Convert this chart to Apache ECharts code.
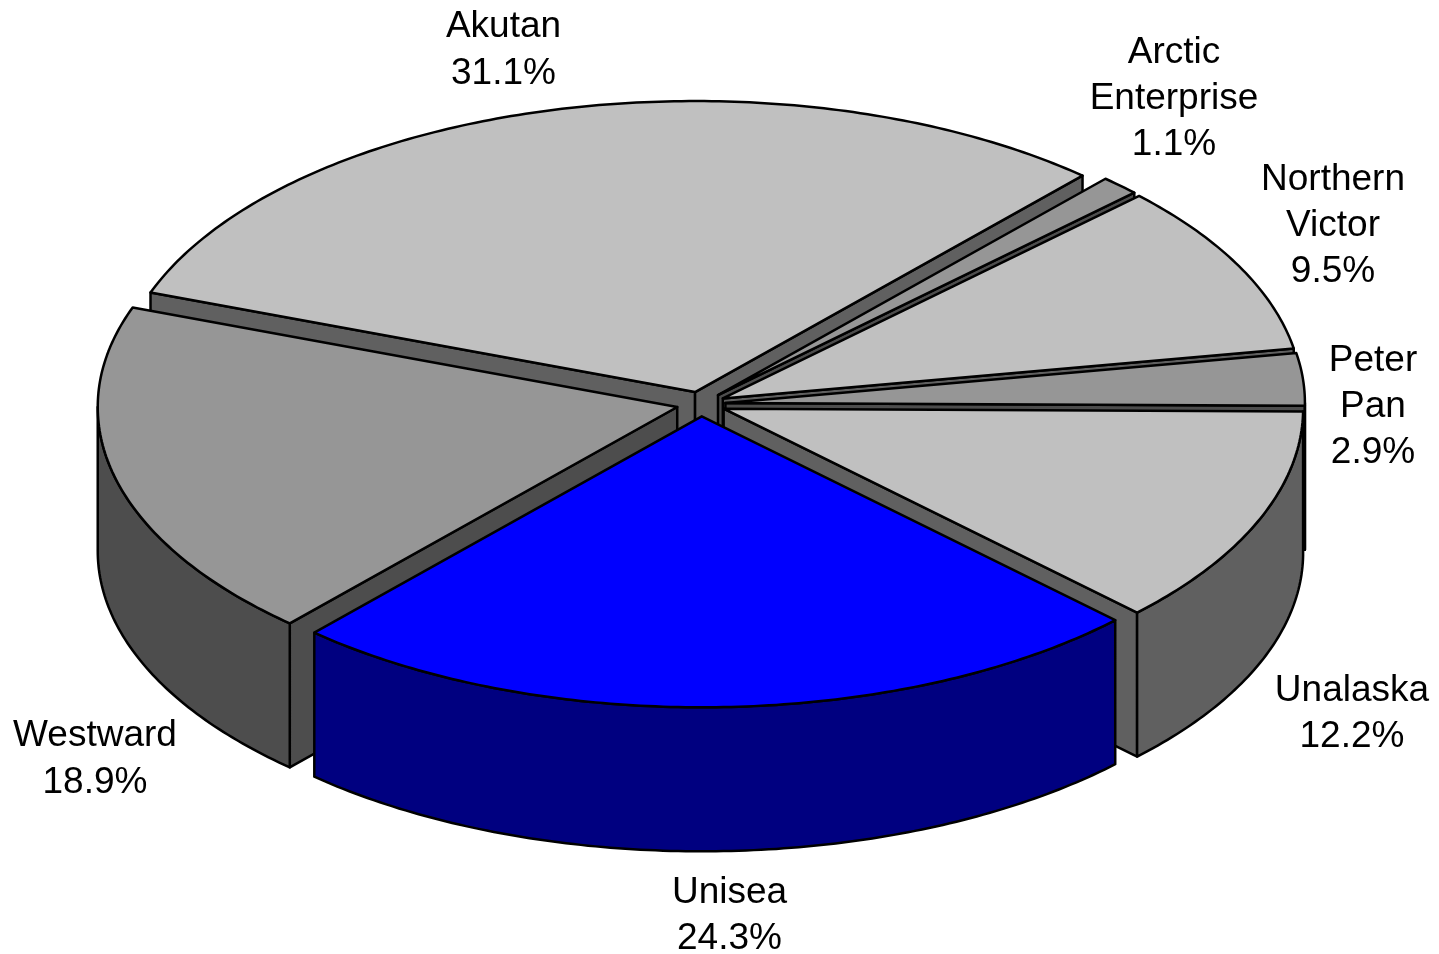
<!DOCTYPE html>
<html>
<head>
<meta charset="utf-8">
<style>html,body{margin:0;padding:0;background:#fff}#c{width:1439px;height:954px}</style>
<script src="https://cdn.jsdelivr.net/npm/echarts@6/dist/echarts.min.js"></script>
</head>
<body>
<div id="c"></div>
<script>
// Data, clockwise from the start angle
const categories = ['Akutan', 'Arctic Enterprise', 'Northern Victor', 'Peter Pan', 'Unalaska', 'Unisea', 'Westward'];
const shares = [31.1, 1.1, 9.5, 2.9, 12.2, 24.3, 18.9];
const labelLines = [['Akutan'], ['Arctic', 'Enterprise'], ['Northern', 'Victor'], ['Peter', 'Pan'], ['Unalaska'], ['Unisea'], ['Westward']];

// Styles and layout
const topColors = ['#C0C0C0', '#969696', '#C0C0C0', '#969696', '#C0C0C0', '#0000FF', '#969696'];
const wallColors = ['#606060', '#4D4D4D', '#606060', '#4D4D4D', '#606060', '#000080', '#4D4D4D'];
const labelCenters = [[503.5, 27], [1174, 52.5], [1333, 179.5], [1373, 360.5], [1352, 690.5], [729.5, 892.5], [95, 736]];
const pie = {cx: 701, cy: 404, rx: 579.5, ry: 291, depth: 144, explode: 24.5, startDeg: 200.0};
const lineGap = 46.3;

const total = shares.reduce((a, b) => a + b, 0);
const rad = d => d * Math.PI / 180;
let running = pie.startDeg;
const rows = shares.map((v, i) => {
  const a0 = running, a1 = running + v / total * 360;
  running = a1;
  return {value: [v, a0, a1, i], name: categories[i]};
});
// back-to-front painting order
rows.sort((p, q) => Math.sin(rad((p.value[1] + p.value[2]) / 2)) - Math.sin(rad((q.value[1] + q.value[2]) / 2)));

function arcPts(ox, oy, a0, a1, drop) {
  const pts = [], n = Math.max(4, Math.ceil((a1 - a0) / 0.75));
  for (let k = 0; k <= n; k++) {
    const a = rad(a0 + (a1 - a0) * k / n);
    pts.push([ox + pie.rx * Math.cos(a), oy + pie.ry * Math.sin(a) + drop]);
  }
  return pts;
}
function face(points, fill) {
  return {type: 'polygon', shape: {points}, style: {fill, stroke: '#000', lineWidth: 2.5, lineJoin: 'round'}};
}
function renderItem(params, api) {
  const a0 = api.value(1), a1 = api.value(2), i = api.value(3);
  const mid = rad((a0 + a1) / 2);
  const ox = pie.cx + pie.explode * Math.cos(mid);
  const oy = pie.cy + pie.explode * pie.ry / pie.rx * Math.sin(mid);
  const d = pie.depth, wall = wallColors[i], children = [];
  const edge = a => [ox + pie.rx * Math.cos(rad(a)), oy + pie.ry * Math.sin(rad(a))];

  // cut faces that look toward the viewer
  if (Math.sin(rad(a0 - 90)) > 0) {
    const e = edge(a0);
    children.push(face([[ox, oy], e, [e[0], e[1] + d], [ox, oy + d]], wall));
  }
  if (Math.sin(rad(a1 + 90)) > 0) {
    const e = edge(a1);
    children.push(face([[ox, oy], e, [e[0], e[1] + d], [ox, oy + d]], wall));
  }
  // outer wall: only the part of the rim on the near side (sin > 0)
  [[0, 180], [360, 540]].forEach(([lo, hi]) => {
    const s = Math.max(a0, lo), t = Math.min(a1, hi);
    if (t > s) {
      const upper = arcPts(ox, oy, s, t, 0);
      const lower = arcPts(ox, oy, s, t, d).reverse();
      children.push(face(upper.concat(lower), wall));
    }
  });
  // top face
  children.push(face([[ox, oy]].concat(arcPts(ox, oy, a0, a1, 0)), topColors[i]));
  return {type: 'group', children};
}

// labels sit above every slice
const labelData = categories.map((c, i) => ({
  name: c, value: [shares[i], i]
}));
function renderLabel(params, api) {
  const i = api.value(1);
  const lines = labelLines[i].concat([api.value(0).toFixed(1) + '%']);
  return {type: 'group', children: lines.map((t, k) => ({
    type: 'text',
    style: {
      x: labelCenters[i][0], y: labelCenters[i][1] + k * lineGap, text: t,
      fill: '#000', font: '37px "Liberation Sans", Arial, sans-serif',
      align: 'center', verticalAlign: 'middle'
    }
  }))};
}

const chart = echarts.init(document.getElementById('c'), null, {renderer: 'canvas'});
chart.setOption({
  animation: false,
  backgroundColor: '#fff',
  series: [
    {type: 'custom', coordinateSystem: 'none', renderItem, data: rows, silent: true, z: 2},
    {type: 'custom', coordinateSystem: 'none', renderItem: renderLabel, data: labelData, silent: true, z: 3}
  ]
});
</script>
</body>
</html>
